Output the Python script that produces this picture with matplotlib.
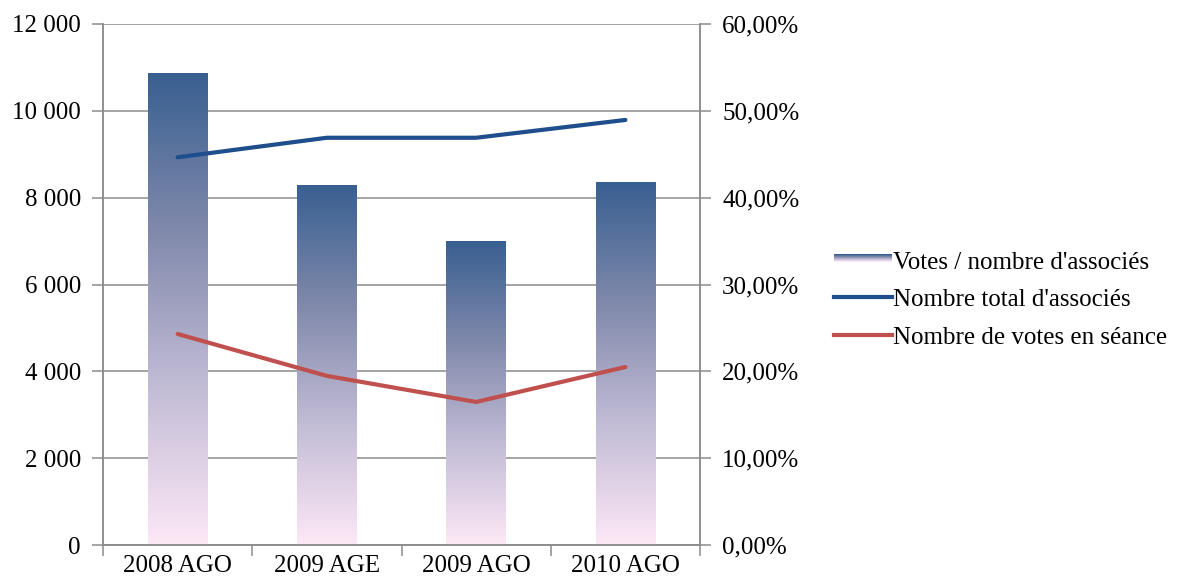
import numpy as np
import matplotlib
matplotlib.use("Agg")
import matplotlib.pyplot as plt
from matplotlib.ticker import FuncFormatter, FixedLocator
from matplotlib.colors import LinearSegmentedColormap
from matplotlib.legend_handler import HandlerBase
from matplotlib.patches import Rectangle
from matplotlib.lines import Line2D

plt.rcParams['font.family'] = ['Liberation Serif', 'DejaVu Serif']

categories = ["2008 AGO", "2009 AGE", "2009 AGO", "2010 AGO"]
total_associes = [8930, 9380, 9380, 9790]
votes_seance = [4860, 3895, 3295, 4100]
ratio_votes = [54.4, 41.5, 35.0, 41.8]

bar_cmap = LinearSegmentedColormap.from_list(
    "bars", ["#fde8f6", "#c2bcd6", "#8089ab", "#385f91"])
gray = "#8c8c8c"
fs = 18


class GradientHandler(HandlerBase):
    # petit rectangle en dégradé pour la légende
    def create_artists(self, legend, orig_handle, xdescent, ydescent,
                       width, height, fontsize, trans):
        arts = []
        n = 8
        h = height * 0.5
        y0 = (height - h) / 2 - ydescent + height * 0.1
        for k in range(n):
            c = bar_cmap(1 - k / (n - 1))
            r = Rectangle((-xdescent, y0 + h - (k + 1) * h / n), width, h / n,
                          facecolor=c, edgecolor="none", transform=trans)
            arts.append(r)
        return arts


fig = plt.figure(figsize=(11.9, 5.8), dpi=100)
ax2 = fig.add_axes([103 / 1190, 1 - 545 / 580, 597 / 1190, 521 / 580])
ax = ax2.twinx()
ax.yaxis.tick_left()
ax2.yaxis.tick_right()
ax.set_zorder(ax2.get_zorder() + 1)
ax.patch.set_visible(False)

x = np.arange(len(categories))

# barres en dégradé (axe de droite)
bars = ax2.bar(x, ratio_votes, width=0.4, color="none", edgecolor="none", zorder=2)
grad = np.linspace(0, 1, 256).reshape(-1, 1)
for b in bars:
    x0, w, h = b.get_x(), b.get_width(), b.get_height()
    im = ax2.imshow(grad, cmap=bar_cmap, origin="lower", aspect="auto",
                    extent=[x0, x0 + w, 0, h], zorder=2)
    im.set_clip_path(b)

ax2.set_xlim(-0.5, 3.5)
ax2.set_ylim(0, 60)
ax2.set_yticks(np.arange(0, 61, 10))
ax2.yaxis.set_major_formatter(FuncFormatter(lambda v, p: f"{v:.2f}".replace(".", ",") + "%"))
ax2.yaxis.grid(True, color=gray, linewidth=1.1, zorder=0)
ax2.set_axisbelow(True)

# courbes (axe de gauche)
ax.plot(x, total_associes, color="#1f4e8c", linewidth=3, solid_capstyle="round", zorder=3)
ax.plot(x, votes_seance, color="#c0504d", linewidth=3, solid_capstyle="round", zorder=3)
ax.set_ylim(0, 12000)
ax.set_yticks(np.arange(0, 12001, 2000))
ax.yaxis.set_major_formatter(FuncFormatter(lambda v, p: f"{int(v):,}".replace(",", " ")))

ax2.set_xticks(x)
ax2.set_xticklabels(categories)
ax2.xaxis.set_minor_locator(FixedLocator(np.arange(-0.5, 4, 1)))
ax2.tick_params(axis="x", which="major", length=0, pad=7, labelsize=fs)
ax2.tick_params(axis="x", which="minor", length=8, color=gray, width=1.1)

for a in (ax, ax2):
    for s in a.spines.values():
        s.set_color(gray)
        s.set_linewidth(1.1)
    a.spines["top"].set_visible(False)
ax.tick_params(axis="y", length=8, color=gray, width=1.1, labelsize=fs, pad=8)
ax2.tick_params(axis="y", length=8, color=gray, width=1.1, labelsize=fs, pad=8)

handles = [Rectangle((0, 0), 1, 1),
           Line2D([], [], color="#1f4e8c", linewidth=3),
           Line2D([], [], color="#c0504d", linewidth=3)]
labels = ["Votes / nombre d'associés", "Nombre total d'associés",
          "Nombre de votes en séance"]
fig.legend(handles, labels, loc="center left", bbox_to_anchor=(0.682, 0.483),
           frameon=False, fontsize=fs, handlelength=2.3, handletextpad=0.05,
           labelspacing=0.6, handler_map={Rectangle: GradientHandler()})

fig.savefig("out.png", dpi=100)
